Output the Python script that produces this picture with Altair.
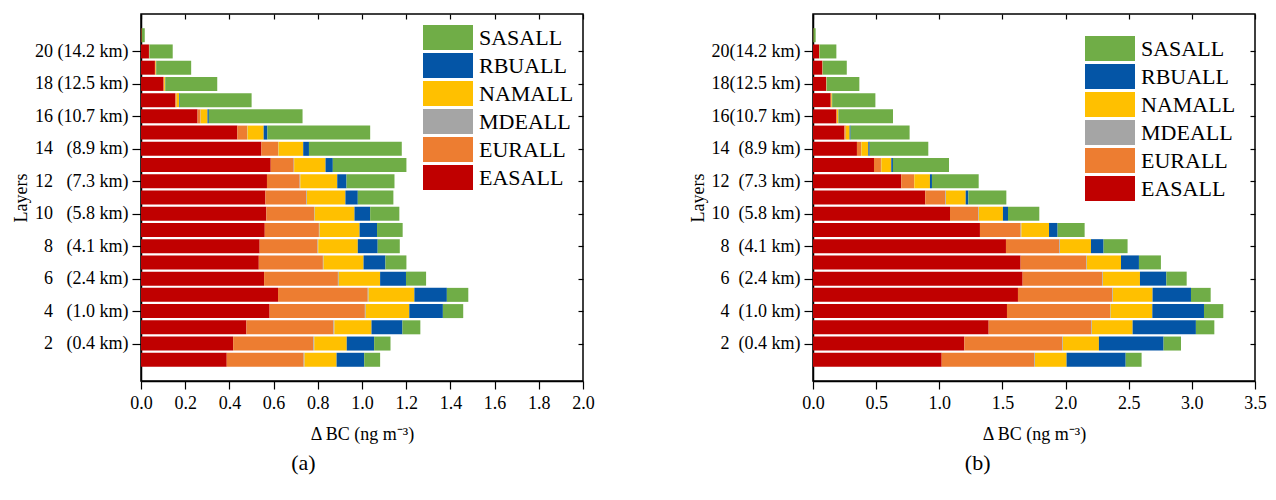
import altair as alt
import pandas as pd

FONT = "Liberation Serif"
NB = "\u00a0"

layers = list(range(1, 22))
sources = ["EASALL", "EURALL", "MDEALL", "NAMALL", "RBUALL", "SASALL"]
legend_order = ["SASALL", "RBUALL", "NAMALL", "MDEALL", "EURALL", "EASALL"]
legend_colors = ["#70AD47", "#0455A6", "#FFC000", "#A5A5A5", "#ED7D31", "#C00000"]

# ---- panel (a): layers 1..21 ----
EAS_a = [0.388, 0.417, 0.477, 0.582, 0.620, 0.557, 0.533, 0.537, 0.560, 0.567, 0.563,
         0.570, 0.587, 0.545, 0.436, 0.256, 0.155, 0.102, 0.063, 0.036, 0.003]
EUR_a = [0.348, 0.363, 0.394, 0.431, 0.406, 0.334, 0.290, 0.262, 0.245, 0.216, 0.185,
         0.148, 0.104, 0.075, 0.044, 0.013, 0.006, 0.003, 0.003, 0.001, 0.000]
MDE_a = [0.004, 0.004, 0.004, 0.004, 0.004, 0.004, 0.003, 0.003, 0.003, 0.003, 0.003,
         0.003, 0.002, 0.002, 0.002, 0.001, 0.0005, 0.0, 0.0, 0.0, 0.0]
NAM_a = [0.145, 0.147, 0.168, 0.197, 0.207, 0.187, 0.181, 0.179, 0.181, 0.180, 0.174,
         0.167, 0.142, 0.112, 0.073, 0.031, 0.011, 0.004, 0.002, 0.001, 0.000]
RBU_a = [0.125, 0.124, 0.140, 0.152, 0.147, 0.117, 0.099, 0.090, 0.079, 0.071, 0.056,
         0.042, 0.033, 0.026, 0.017, 0.006, 0.003, 0.001, 0.001, 0.0005, 0.0]
SAS_a = [0.072, 0.074, 0.081, 0.092, 0.097, 0.091, 0.095, 0.100, 0.116, 0.132, 0.161,
         0.217, 0.333, 0.420, 0.465, 0.424, 0.325, 0.235, 0.158, 0.105, 0.014]

# ---- panel (b): layers 1..21 ----
EAS_b = [1.019, 1.198, 1.391, 1.536, 1.623, 1.660, 1.644, 1.528, 1.322, 1.085, 0.889,
         0.699, 0.483, 0.348, 0.248, 0.185, 0.140, 0.103, 0.074, 0.048, 0.003]
EUR_b = [0.733, 0.776, 0.813, 0.816, 0.747, 0.631, 0.520, 0.422, 0.322, 0.224, 0.159,
         0.101, 0.055, 0.032, 0.011, 0.005, 0.005, 0.003, 0.002, 0.002, 0.0]
MDE_b = [0.006, 0.005, 0.005, 0.005, 0.005, 0.005, 0.005, 0.006, 0.006, 0.005, 0.005,
         0.002, 0.003, 0.003, 0.001, 0.0005, 0.0, 0.0, 0.0, 0.0, 0.0]
NAM_b = [0.250, 0.285, 0.322, 0.330, 0.314, 0.293, 0.270, 0.245, 0.219, 0.190, 0.156,
         0.124, 0.079, 0.055, 0.030, 0.011, 0.005, 0.002, 0.001, 0.001, 0.0]
RBU_b = [0.468, 0.512, 0.501, 0.409, 0.304, 0.209, 0.142, 0.100, 0.068, 0.040, 0.021,
         0.016, 0.013, 0.011, 0.008, 0.002, 0.002, 0.001, 0.0005, 0.0, 0.0]
SAS_b = [0.126, 0.138, 0.146, 0.153, 0.156, 0.161, 0.174, 0.190, 0.214, 0.248, 0.301,
         0.370, 0.444, 0.464, 0.467, 0.430, 0.342, 0.258, 0.190, 0.134, 0.018]

tick_layers = [2, 4, 6, 8, 10, 12, 14, 16, 18, 20]
heights = ["0.4", "1.0", "2.4", "4.1", "5.8", "7.3", "8.9", "10.7", "12.5", "14.2"]
labels_a = [f"{t}{NB*3}({h} km)" if t <= 14 else f"{t} ({h} km)" for t, h in zip(tick_layers, heights)]
labels_b = [f"{t}{NB*2}({h} km)" if t <= 14 else f"{t}({h} km)" for t, h in zip(tick_layers, heights)]

xticks_a = [0.0, 0.2, 0.4, 0.6, 0.8, 1.0, 1.2, 1.4, 1.6, 1.8, 2.0]
xticks_b = [0.0, 0.5, 1.0, 1.5, 2.0, 2.5, 3.0, 3.5]


def to_long(series):
    rows = []
    for k, (src, vals) in enumerate(zip(sources, series)):
        for l, v in zip(layers, vals):
            rows.append({"layer": l, "source": src, "value": v, "ord": k})
    return pd.DataFrame(rows)


df_a = to_long([EAS_a, EUR_a, MDE_a, NAM_a, RBU_a, SAS_a])
df_b = to_long([EAS_b, EUR_b, MDE_b, NAM_b, RBU_b, SAS_b])


def panel(df, xmax, xticks, labels, legx, legy, title):
    arr = [""] * 23
    for t, s in zip(tick_layers, labels):
        arr[t] = s
    expr = "[" + ",".join("'" + s + "'" for s in arr) + "][datum.value]"
    xscale = alt.Scale(domain=[0, xmax], nice=False, zero=True)
    yscale = alt.Scale(domain=[0, 22], nice=False, zero=True)
    bars = alt.Chart(df).mark_bar(orient="horizontal", size=14).encode(
        x=alt.X("value:Q", stack="zero", scale=xscale,
                axis=alt.Axis(values=xticks, format=".1f", title="\u0394 BC (ng m\u207b\u00b3)",
                              grid=False, tickSize=8, labelPadding=5, titlePadding=13,
                              labelFlush=False)),
        y=alt.Y("layer:Q", scale=yscale,
                axis=alt.Axis(values=tick_layers, labelExpr=expr, title="Layers", grid=False,
                              tickSize=9, labelPadding=4, titlePadding=4, labelFlush=False)),
        color=alt.Color("source:N",
                        scale=alt.Scale(domain=legend_order, range=legend_colors),
                        legend=alt.Legend(title=None, orient="none", legendX=legx, legendY=legy,
                                          symbolType="M-2,-1H2V1H-2Z", symbolSize=625,
                                          symbolStrokeWidth=0, symbolOpacity=1,
                                          labelFontSize=22, labelFont=FONT, labelColor="black",
                                          labelOffset=18.5, rowPadding=3, padding=0)),
        order=alt.Order("ord:Q", sort="ascending"),
    )
    # mirrored inward ticks on the top and right edges of the frame
    mirror = alt.Chart(df).mark_bar(orient="horizontal", size=14, opacity=0).encode(
        x=alt.X("value:Q", stack="zero", scale=xscale,
                axis=alt.Axis(orient="top", values=xticks, labels=False, title=None, grid=False,
                              domain=False, tickSize=5, offset=-5)),
        y=alt.Y("layer:Q", scale=yscale,
                axis=alt.Axis(orient="right", values=tick_layers, labels=False, title=None,
                              grid=False, domain=False, tickSize=5, offset=-5)),
    )
    return alt.layer(bars, mirror).resolve_axis(x="independent", y="independent").properties(
        width=442, height=367,
        title=alt.TitleParams(title, orient="bottom", frame="bounds", anchor="middle",
                              fontSize=22, font=FONT, fontWeight="normal", color="black", offset=10),
    )


pa = panel(df_a, 2.0, xticks_a, labels_a, 294.5, 11, "(a)")
pb = panel(df_b, 3.5, xticks_b, labels_b, 284.5, 22, "(b)")

chart = alt.hconcat(pa, pb, spacing=93).resolve_scale(color="independent").resolve_legend(
    color="independent"
).properties(
    padding={"left": 3, "top": 4, "right": 0, "bottom": 0}
).configure(font=FONT).configure_view(
    stroke="black", strokeWidth=1.5
).configure_axis(
    labelFont=FONT, titleFont=FONT, labelFontSize=18, titleFontSize=18,
    labelColor="black", titleColor="black", titleFontWeight="normal",
    domainColor="black", domainWidth=1.5, tickColor="black", tickWidth=1.2,
)

chart.save("out.html", embed_options={"renderer": "svg", "actions": False})
